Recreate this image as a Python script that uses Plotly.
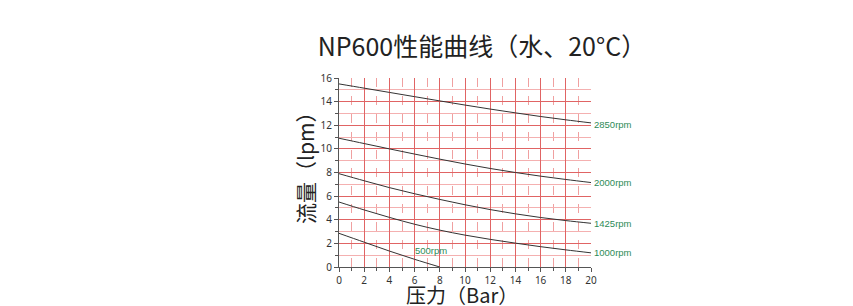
import plotly.graph_objects as go

pressure = [0, 2, 4, 6, 8, 10, 12, 14, 16, 18, 20]
flow_2850 = [15.5, 15.14, 14.78, 14.42, 14.06, 13.71, 13.37, 13.05, 12.74, 12.46, 12.2]
flow_2000 = [10.9, 10.45, 10.0, 9.56, 9.13, 8.72, 8.34, 8.0, 7.69, 7.41, 7.15]
flow_1425 = [7.9, 7.3, 6.72, 6.2, 5.72, 5.27, 4.86, 4.5, 4.19, 3.93, 3.7]
flow_1000 = [5.5, 4.83, 4.2, 3.62, 3.12, 2.7, 2.34, 2.02, 1.72, 1.45, 1.2]
pressure_500 = [0, 2, 4, 6, 8]
flow_500 = [2.85, 2.1, 1.35, 0.65, 0.0]

labels = ["2850rpm", "2000rpm", "1425rpm", "1000rpm"]
label_y = [12.1, 7.15, 3.7, 1.2]
label_500 = "500rpm"
label_500_pos = (5.9, 1.4)

title_text = "NP600性能曲线（水、20°C）"
x_title = "压力（Bar）"
y_title = "流量（lpm）"

fig = go.Figure()
for ys in [flow_2850, flow_2000, flow_1425, flow_1000]:
    fig.add_trace(go.Scatter(x=pressure, y=ys, mode="lines", line=dict(color="#333333", width=1, shape="spline"),
                             showlegend=False, hoverinfo="skip"))
fig.add_trace(go.Scatter(x=pressure_500, y=flow_500, mode="lines", line=dict(color="#333333", width=1, shape="spline"),
                         showlegend=False, hoverinfo="skip"))

green = "#2e8b57"
for t, y in zip(labels, label_y):
    fig.add_annotation(x=20, y=y, xref="x", yref="y", text=t, showarrow=False, xanchor="left", xshift=1,
                       font=dict(size=9.5, color=green, family="Liberation Sans"))
fig.add_annotation(x=label_500_pos[0], y=label_500_pos[1], xref="x", yref="y", text=label_500, showarrow=False,
                   xanchor="left", font=dict(size=9.5, color=green, family="Liberation Sans"))

font_cjk = "Noto Sans CJK SC"
# axis titles as annotations
fig.add_annotation(x=0.49, y=-0.147, xref="paper", yref="paper", text=x_title, showarrow=False,
                   xanchor="center", yanchor="middle", font=dict(size=20, family=font_cjk, color="#222222"))
fig.add_annotation(x=-0.135, y=0.55, xref="paper", yref="paper", text=y_title, showarrow=False, textangle=-90,
                   xanchor="center", yanchor="middle", font=dict(size=21, family=font_cjk, color="#222222"))

fig.update_layout(
    width=853, height=306,
    margin=dict(l=339, r=262, t=78, b=39),
    paper_bgcolor="white", plot_bgcolor="white",
    title=dict(text=title_text, x=0.565, xanchor="center", y=0.845, yanchor="middle",
               font=dict(size=25, color="#222222", family=font_cjk)),
    font=dict(family="Noto Sans", size=10, color="#333333"),
)
fig.update_xaxes(range=[0, 20], dtick=2, tick0=0, showline=True, linecolor="#555555", linewidth=1,
                 ticks="outside", ticklen=4, tickcolor="#555555", automargin=False,
                 showgrid=True, gridcolor="#e06464", gridwidth=1, zeroline=False,
                 minor=dict(dtick=1, showgrid=True, gridcolor="#f0a0a0", griddash="dash", ticks="outside",
                            ticklen=3, tickcolor="#555555"),
                 tickfont=dict(size=10, color="#333333"))
fig.update_yaxes(range=[0, 16], dtick=2, tick0=0, showline=True, linecolor="#555555", linewidth=1,
                 ticks="outside", ticklen=4, tickcolor="#555555", automargin=False,
                 showgrid=True, gridcolor="#e06464", gridwidth=1, zeroline=False,
                 minor=dict(dtick=1, showgrid=True, gridcolor="#f4b0b0", ticks="outside", ticklen=3,
                            tickcolor="#555555"),
                 tickfont=dict(size=10, color="#333333"))

fig.write_html("out.html")
